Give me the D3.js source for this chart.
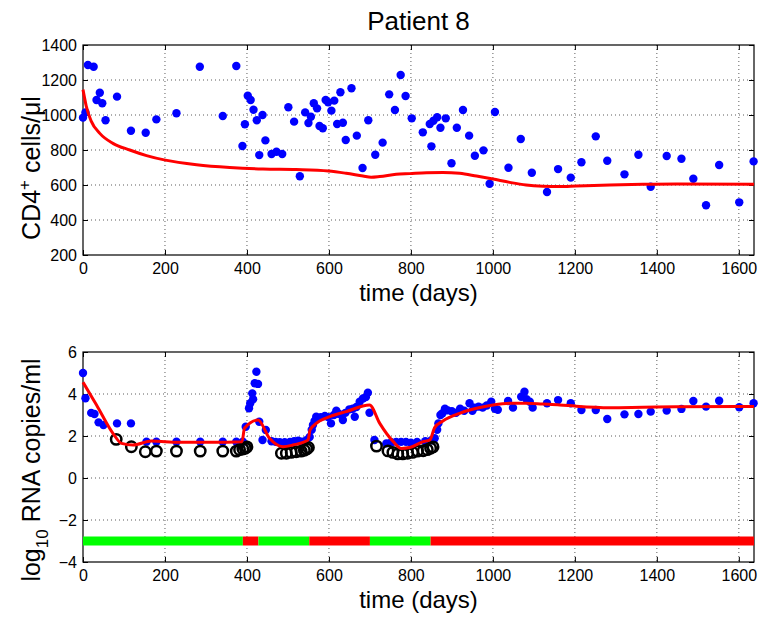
<!DOCTYPE html>
<html>
<head>
<meta charset="utf-8">
<script src="https://cdn.jsdelivr.net/npm/d3@7"></script>
<style>
  body { margin: 0; background: #fff; }
  text { font-family: "Liberation Sans", Arial, Helvetica, sans-serif; }
</style>
</head>
<body>
<svg id="chart"></svg>
<script>
// ---- data ----
const xTicks = [0, 200, 400, 600, 800, 1000, 1200, 1400, 1600];
const cd4Ticks = [200, 400, 600, 800, 1000, 1200, 1400];
const rnaTicks = [-4, -2, 0, 2, 4, 6];

// CD4 measurements [day, cells/ul]
const cd4Data = [
  [0, 985], [6, 1015], [12, 1286], [26, 1276], [33, 1086], [41, 1127], [47, 1067], [55, 970],
  [83, 1105], [117, 910], [153, 899], [179, 975], [228, 1010], [285, 1276], [341, 994], [374, 1280],
  [389, 823], [395, 947], [402, 1110], [409, 1086], [416, 1030], [424, 970], [430, 771], [438, 1000],
  [445, 855], [460, 777], [472, 790], [486, 777], [501, 1044], [515, 962], [529, 650], [542, 1015],
  [550, 954], [556, 990], [563, 1067], [571, 1038], [577, 937], [585, 924], [592, 1086], [598, 1073],
  [606, 1025], [613, 1082], [620, 949], [628, 1130], [634, 956], [641, 857], [655, 1153], [668, 882],
  [682, 697], [696, 970], [713, 773], [731, 842], [747, 1118], [761, 1029], [775, 1229], [787, 1109],
  [802, 981], [829, 901], [846, 949], [850, 821], [855, 967], [864, 987], [872, 927], [885, 981],
  [899, 724], [912, 927], [927, 1029], [942, 882], [956, 767], [977, 798], [992, 607], [1005, 1017],
  [1038, 699], [1068, 863], [1095, 670], [1132, 560], [1159, 691], [1190, 642], [1216, 730], [1251, 878],
  [1279, 739], [1321, 661], [1355, 773], [1385, 590], [1424, 766], [1460, 750], [1489, 636], [1520, 484],
  [1552, 714], [1601, 501], [1636, 735]
];

// CD4 model fit [day, cells/ul]
const cd4Model = [
  [0, 1145], [8, 1050], [20, 965], [41, 895], [73, 838], [114, 800], [155, 768], [201, 742], [277, 716],
  [358, 700], [439, 691], [520, 688], [599, 680], [642, 667], [683, 651], [703, 644], [724, 648],
  [764, 661], [797, 665], [838, 670], [878, 672], [919, 667], [960, 651], [1000, 634], [1041, 615],
  [1081, 600], [1122, 593], [1163, 591], [1203, 594], [1285, 600], [1366, 604], [1447, 606], [1637, 604]
];

// viral load measurements [day, log10 copies/ml]
const rnaData = [
  [0, 5.0], [6, 3.8], [20, 3.1], [28, 3.05], [38, 2.65], [50, 2.52], [83, 2.6], [117, 2.6],
  [155, 1.73], [179, 1.73], [228, 1.73], [286, 1.73], [341, 1.73], [374, 1.73], [390, 1.73],
  [397, 2.44], [405, 3.32], [408, 3.56], [413, 4.03], [415, 3.75], [419, 4.51], [423, 5.06], [427, 4.48],
  [430, 2.68], [438, 1.81], [446, 2.29], [460, 1.75], [470, 1.72], [480, 1.7], [492, 1.7], [505, 1.72],
  [515, 1.75], [525, 1.78], [533, 1.73], [545, 1.8], [553, 1.95], [558, 2.3], [561, 2.52], [565, 2.72],
  [569, 2.92], [575, 2.85], [580, 2.9], [590, 2.95], [598, 2.9], [605, 2.6], [612, 3.0], [618, 3.2],
  [625, 3.05], [634, 2.76], [640, 3.1], [650, 3.27], [658, 3.3], [663, 2.92], [667, 3.38], [675, 3.63],
  [683, 3.79], [690, 3.85], [695, 4.06], [699, 3.11], [711, 1.81], [740, 1.65], [752, 1.7], [764, 1.72],
  [776, 1.72], [788, 1.72], [800, 1.68], [815, 1.72], [835, 1.75], [850, 1.8], [858, 1.89], [864, 2.3],
  [867, 2.6], [872, 3.0], [877, 3.08], [883, 3.3], [890, 3.22], [900, 3.18], [910, 3.1], [920, 3.3],
  [930, 3.2], [943, 3.56], [950, 3.2], [955, 3.35], [965, 3.4], [975, 3.35], [985, 3.45], [996, 3.63],
  [1005, 3.3], [1012, 3.25], [1037, 3.67], [1049, 3.35], [1069, 3.87], [1077, 4.11], [1082, 3.75],
  [1090, 3.63], [1097, 3.35], [1132, 3.56], [1159, 3.71], [1190, 3.56], [1216, 3.24], [1251, 3.24],
  [1279, 2.81], [1321, 3.03], [1355, 3.05], [1385, 3.16], [1424, 3.21], [1460, 3.29], [1489, 3.67],
  [1520, 3.40], [1552, 3.68], [1601, 3.37], [1636, 3.56]
];

// measurements below detection limit (open circles)
const rnaCensored = [
  [81, 1.84], [118, 1.49], [152, 1.25], [179, 1.28], [228, 1.28], [286, 1.28], [341, 1.28], [374, 1.28],
  [382, 1.35], [390, 1.38], [396, 1.42], [400, 1.48],
  [484, 1.18], [496, 1.18], [508, 1.22], [520, 1.25], [532, 1.28], [540, 1.32], [546, 1.38], [550, 1.45],
  [716, 1.52], [744, 1.29], [756, 1.22], [768, 1.15], [780, 1.15], [792, 1.18], [804, 1.22], [816, 1.28],
  [830, 1.3], [840, 1.35], [848, 1.42], [854, 1.48]
];

// viral load model fit
const rnaModel = [
  [0, 4.56], [33, 3.48], [73, 2.13], [94, 1.65], [122, 1.57], [167, 1.76], [234, 1.70], [316, 1.70],
  [388, 1.73], [394, 2.37], [427, 2.76], [455, 1.89], [488, 1.49], [512, 1.57], [549, 1.81], [554, 2.29],
  [569, 2.6], [602, 2.92], [642, 3.16], [699, 3.48], [724, 2.60], [757, 1.73], [777, 1.41], [797, 1.45],
  [830, 1.73], [846, 1.81], [858, 2.40], [878, 2.71], [919, 3.08], [960, 3.32], [1000, 3.48], [1041, 3.56],
  [1081, 3.56], [1122, 3.52], [1163, 3.48], [1203, 3.42], [1285, 3.35], [1366, 3.37], [1447, 3.39], [1637, 3.40]
];

// treatment periods: on (green) / off (red)
const segStart = [0, 390, 428, 552, 700, 848];
const segEnd = [390, 428, 552, 700, 848, 1637];
const segOn = [true, false, true, false, true, false];
const barLevel = -3;

const width = 761, height = 618;
const plotLeft = 83, plotRight = 754;
const topPanel = { top: 45, bottom: 255 };
const botPanel = { top: 352, bottom: 562 };

const svg = d3.select("#chart")
  .attr("width", width)
  .attr("height", height)
  .attr("viewBox", [0, 0, width, height]);

svg.append("rect").attr("width", width).attr("height", height).attr("fill", "#fff");

const xScale = d3.scaleLinear().domain([0, 1637]).range([plotLeft, plotRight]);
const yTop = d3.scaleLinear().domain([200, 1400]).range([topPanel.bottom, topPanel.top]);
const yBot = d3.scaleLinear().domain([-4, 6]).range([botPanel.bottom, botPanel.top]);

const plainNum = d => d < 0 ? "\u2212" + Math.abs(d) : String(d);

// draws grid, ticks on all four sides and the frame
function drawFrame(yScale, yTickVals, panel) {
  const g = svg.append("g");

  // dotted grid
  g.selectAll(".vgrid").data(xTicks.filter(d => d > 0)).join("line")
    .attr("x1", d => xScale(d)).attr("x2", d => xScale(d))
    .attr("y1", panel.top).attr("y2", panel.bottom)
    .attr("stroke", "#333").attr("stroke-width", 0.8).attr("stroke-dasharray", "1,3");
  g.selectAll(".hgrid").data(yTickVals.slice(1, -1)).join("line")
    .attr("x1", plotLeft).attr("x2", plotRight)
    .attr("y1", d => yScale(d)).attr("y2", d => yScale(d))
    .attr("stroke", "#333").attr("stroke-width", 0.8).attr("stroke-dasharray", "1,3");

  const xb = g.append("g")
    .attr("transform", `translate(0,${panel.bottom})`)
    .call(d3.axisBottom(xScale).tickValues(xTicks).tickSize(-5).tickPadding(8).tickFormat(plainNum));
  const xt = g.append("g")
    .attr("transform", `translate(0,${panel.top})`)
    .call(d3.axisTop(xScale).tickValues(xTicks).tickSize(-5).tickFormat(""));
  const yl = g.append("g")
    .attr("transform", `translate(${plotLeft},0)`)
    .call(d3.axisLeft(yScale).tickValues(yTickVals).tickSize(-5).tickPadding(6).tickFormat(plainNum));
  const yr = g.append("g")
    .attr("transform", `translate(${plotRight},0)`)
    .call(d3.axisRight(yScale).tickValues(yTickVals).tickSize(-5).tickFormat(""));

  [xb, xt, yl, yr].forEach(a => {
    a.select(".domain").remove();
    a.selectAll(".tick line").attr("stroke", "#000");
    a.selectAll(".tick text").attr("fill", "#000").style("font-size", "16px");
  });

  g.append("rect")
    .attr("x", plotLeft).attr("y", panel.top)
    .attr("width", plotRight - plotLeft).attr("height", panel.bottom - panel.top)
    .attr("fill", "none").attr("stroke", "#000").attr("stroke-width", 1.2);
}

drawFrame(yTop, cd4Ticks, topPanel);
drawFrame(yBot, rnaTicks, botPanel);

// ---- top panel: CD4 ----
const cd4Line = d3.line()
  .x(d => xScale(d[0]))
  .y(d => yTop(d[1]))
  .curve(d3.curveMonotoneX);

svg.append("g").selectAll("circle").data(cd4Data).join("circle")
  .attr("cx", d => xScale(d[0]))
  .attr("cy", d => yTop(d[1]))
  .attr("r", 4.2)
  .attr("fill", "#0000ff");

svg.append("path")
  .attr("d", cd4Line(cd4Model))
  .attr("fill", "none")
  .attr("stroke", "#ff0000")
  .attr("stroke-width", 3);

// ---- bottom panel: viral load ----
const rnaLine = d3.line()
  .x(d => xScale(d[0]))
  .y(d => yBot(d[1]))
  .curve(d3.curveMonotoneX);

svg.append("g").selectAll("circle").data(rnaData).join("circle")
  .attr("cx", d => xScale(d[0]))
  .attr("cy", d => yBot(d[1]))
  .attr("r", 4.2)
  .attr("fill", "#0000ff");

svg.append("g").selectAll("circle").data(rnaCensored).join("circle")
  .attr("cx", d => xScale(d[0]))
  .attr("cy", d => yBot(d[1]))
  .attr("r", 5.2)
  .attr("fill", "none")
  .attr("stroke", "#000")
  .attr("stroke-width", 2.5);

svg.append("path")
  .attr("d", rnaLine(rnaModel))
  .attr("fill", "none")
  .attr("stroke", "#ff0000")
  .attr("stroke-width", 3);

// treatment bar
svg.append("g").selectAll("line").data(segStart).join("line")
  .attr("x1", (d, i) => xScale(d))
  .attr("x2", (d, i) => xScale(segEnd[i]))
  .attr("y1", yBot(barLevel))
  .attr("y2", yBot(barLevel))
  .attr("stroke", (d, i) => segOn[i] ? "#00ff00" : "#ff0000")
  .attr("stroke-width", 9);

// ---- texts ----
const midX = (plotLeft + plotRight) / 2;

svg.append("text")
  .attr("x", midX).attr("y", 30)
  .attr("text-anchor", "middle")
  .style("font-size", "26px")
  .text("Patient 8");

svg.append("text")
  .attr("x", midX).attr("y", 301)
  .attr("text-anchor", "middle")
  .style("font-size", "24px")
  .text("time (days)");

svg.append("text")
  .attr("x", midX).attr("y", 608)
  .attr("text-anchor", "middle")
  .style("font-size", "24px")
  .text("time (days)");

const cd4Label = svg.append("text")
  .attr("transform", `translate(40,168) rotate(-90)`)
  .attr("text-anchor", "middle")
  .style("font-size", "25px");
cd4Label.append("tspan").text("CD4");
cd4Label.append("tspan").attr("dy", -10).style("font-size", "17px").text("+");
cd4Label.append("tspan").attr("dy", 10).text(" cells/\u03bcl");

const rnaLabel = svg.append("text")
  .attr("transform", `translate(40,470) rotate(-90)`)
  .attr("text-anchor", "middle")
  .style("font-size", "25px");
rnaLabel.append("tspan").text("log");
rnaLabel.append("tspan").attr("dy", 8).style("font-size", "17px").text("10");
rnaLabel.append("tspan").attr("dy", -8).text(" RNA copies/ml");
</script>
</body>
</html>
